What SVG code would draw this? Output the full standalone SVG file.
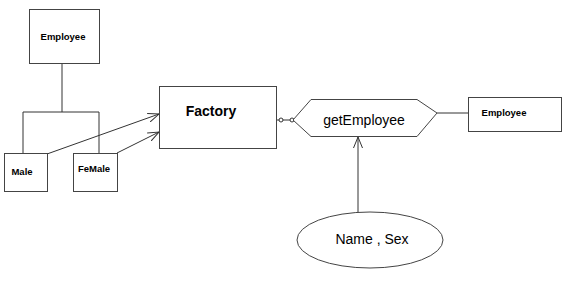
<svg xmlns="http://www.w3.org/2000/svg" width="567" height="284" viewBox="0 0 567 284">
<style>
.box{fill:#fff;stroke:#444;stroke-width:1}
.ln{fill:none;stroke:#333;stroke-width:1}
.sm{font-family:"Liberation Sans",Arial,sans-serif;font-size:9.5px;font-weight:bold;fill:#000;text-anchor:middle}
.lg{font-family:"Liberation Sans",Arial,sans-serif;font-size:14px;fill:#000;text-anchor:middle}
</style>
<defs>
<marker id="open" markerWidth="12" markerHeight="10" refX="11" refY="5" orient="auto" markerUnits="userSpaceOnUse">
<path d="M0,0.5 L11,5 L0,9.5" fill="none" stroke="#333" stroke-width="1"/>
</marker>
</defs>
<rect width="567" height="284" fill="#fff"/>
<g id="connectors">
<path class="ln" d="M62,63 V112 M23,153 V112 H99 V153"/>
<line class="ln" x1="47" y1="154" x2="159" y2="114" marker-end="url(#open)"/>
<line class="ln" x1="117" y1="153" x2="159" y2="132" marker-end="url(#open)"/>
<line class="ln" x1="276" y1="120" x2="293" y2="120"/>
<circle cx="281" cy="120" r="2" fill="#fff" stroke="#333"/>
<circle cx="292" cy="120" r="2" fill="#fff" stroke="#333"/>
<line class="ln" x1="437" y1="113" x2="468" y2="113"/>
<line class="ln" x1="358" y1="212" x2="358" y2="137" marker-end="url(#open)"/>
</g>
<g id="employee-top">
<rect class="box" x="29.5" y="9.5" width="70" height="54"/>
<text class="sm" x="63" y="40">Employee</text>
</g>
<g id="male">
<rect class="box" x="4.5" y="153.5" width="43" height="38"/>
<text class="sm" x="22" y="175">Male</text>
</g>
<g id="female">
<rect class="box" x="73.5" y="153.5" width="44" height="38"/>
<text class="sm" x="94" y="172">FeMale</text>
</g>
<g id="factory">
<rect class="box" x="159.5" y="86.5" width="117" height="62"/>
<text class="lg" x="211" y="116" font-weight="bold">Factory</text>
</g>
<g id="getEmployee">
<polygon class="box" points="293,120 311,99.5 417,99.5 437,113 417,136.5 311,136.5"/>
<text class="lg" x="364" y="125">getEmployee</text>
</g>
<g id="employee-right">
<rect class="box" x="468.5" y="97.5" width="93" height="34"/>
<text class="sm" x="504" y="116">Employee</text>
</g>
<g id="params">
<ellipse class="box" cx="370" cy="240" rx="73" ry="28"/>
<text class="lg" x="372" y="244">Name , Sex</text>
</g>
</svg>
